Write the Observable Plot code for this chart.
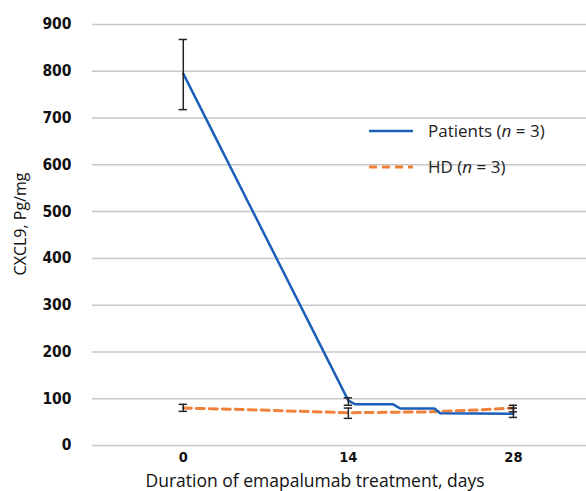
<!DOCTYPE html>
<html>
<head>
<meta charset="utf-8">
<script src="https://cdn.jsdelivr.net/npm/d3@7"></script>
<script src="https://cdn.jsdelivr.net/npm/@observablehq/plot@0.6"></script>
<style>
  html, body { margin: 0; padding: 0; background: #fff; }
  #wrap { position: relative; width: 586px; height: 491px; overflow: hidden; }
  .legend { position: absolute; left: 368px; font-family: "Open Sans", "Noto Sans", sans-serif; font-size: 17px; color: #222; display: flex; align-items: center; }
  .legend svg { margin-right: 14px; }
  #xtitle { position: absolute; left: 0; width: 630px; top: 471px; text-align: center; font-family: "Open Sans", "Noto Sans", sans-serif; font-size: 17.5px; line-height: 18px; color: #111; }
</style>
</head>
<body>
<div id="wrap"></div>
<script>
// Days of treatment (x)
const xTicks = [0, 14, 28];
const yTicks = [0, 100, 200, 300, 400, 500, 600, 700, 800, 900];
const xTitle = "Duration of emapalumab treatment, days";
const yTitle = "CXCL9, Pg/mg";

// Patients (n = 3) line, as traced
const patientDays   = [0, 14, 14.6, 17.8, 18.4, 21.3, 21.8, 28];
const patientValues = [795, 96, 88, 88, 79, 79, 69, 68];

// HD (n = 3) dashed line, as traced
const hdDays   = [0, 5, 10, 14, 21, 25, 28];
const hdValues = [80, 77, 73, 70, 72, 76, 80];

// Error bars at measurement days
const errDays = [0, 14, 14, 28, 0, 28];
const errLow  = [718, 86, 58, 60, 73, 72];
const errHigh = [868, 102, 80, 80, 88, 86];

const patients = patientDays.map((d, i) => ({day: d, value: patientValues[i]}));
const hd = hdDays.map((d, i) => ({day: d, value: hdValues[i]}));
const errs = errDays.map((d, i) => ({day: d, lo: errLow[i], hi: errHigh[i]}));

const blue = "#1b5fb8";
const orange = "#f0803a";
const capHalf = 0.35;

const chart = Plot.plot({
  width: 586,
  height: 491,
  marginLeft: 92,
  marginRight: 0,
  marginTop: 24,
  marginBottom: 46,
  style: {fontFamily: "'Open Sans', 'Noto Sans', sans-serif", background: "#fff"},
  x: {domain: [-7.7, 34.2], ticks: xTicks},
  y: {domain: [0, 900], ticks: yTicks},
  marks: [
    Plot.gridY(yTicks, {stroke: "#c8c8c8", strokeOpacity: 1, strokeWidth: 1.5}),
    Plot.axisY(yTicks, {
      tickSize: 0, tickPadding: 21, label: null,
      fontFamily: "'DejaVu Sans Condensed', 'DejaVu Sans', sans-serif",
      fontWeight: "bold", fontSize: 15.5, fill: "#111"
    }),
    Plot.axisX(xTicks, {
      tickSize: 0, tickPadding: 6, label: null,
      fontFamily: "'DejaVu Sans Condensed', 'DejaVu Sans', sans-serif",
      fontWeight: "bold", fontSize: 14.5, fill: "#111"
    }),
    Plot.text([yTitle], {
      frameAnchor: "left", textAnchor: "middle", dx: -72, dy: -11, rotate: -90, fontSize: 16, fill: "#111"
    }),
    Plot.line(hd, {x: "day", y: "value", stroke: orange, strokeWidth: 3, strokeDasharray: "8,5"}),
    Plot.line(patients, {x: "day", y: "value", stroke: blue, strokeWidth: 2.5}),
    Plot.ruleX(errs, {x: "day", y1: "lo", y2: "hi", stroke: "#222", strokeWidth: 1.5}),
    Plot.ruleY(errs, {y: "lo", x1: d => d.day - capHalf, x2: d => d.day + capHalf, stroke: "#222", strokeWidth: 1.5}),
    Plot.ruleY(errs, {y: "hi", x1: d => d.day - capHalf, x2: d => d.day + capHalf, stroke: "#222", strokeWidth: 1.5})
  ]
});

const wrap = document.getElementById("wrap");
wrap.appendChild(chart);

const xt = document.createElement("div");
xt.id = "xtitle";
xt.textContent = xTitle;
wrap.appendChild(xt);

const legendItems = [
  {label: "Patients (<i>n</i> = 3)", color: blue, dash: null, top: 119},
  {label: "HD (<i>n</i> = 3)", color: orange, dash: "8,5", top: 155}
];
for (const it of legendItems) {
  const div = document.createElement("div");
  div.className = "legend";
  div.style.top = it.top + "px";
  div.innerHTML = `<svg width="46" height="8"><line x1="1" y1="4" x2="45" y2="4" stroke="${it.color}" stroke-width="${it.dash ? 3 : 2.5}" ${it.dash ? `stroke-dasharray="${it.dash}"` : ""}/></svg><span>${it.label}</span>`;
  wrap.appendChild(div);
}
</script>
</body>
</html>
